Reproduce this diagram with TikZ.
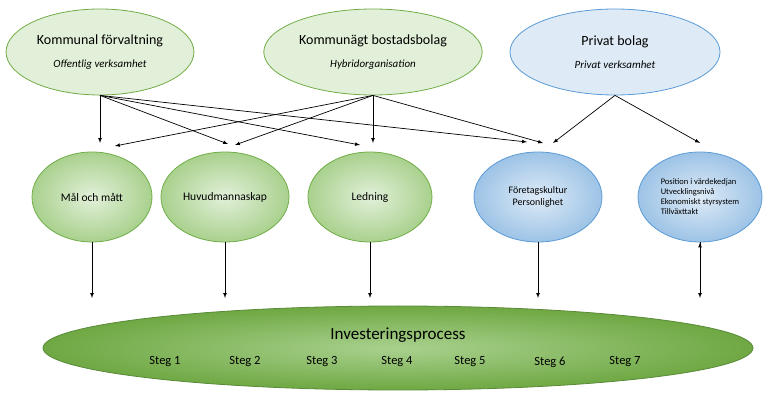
\documentclass[tikz,border=0pt]{standalone}
\usepackage{fontspec}
\setmainfont{Carlito}
\usetikzlibrary{arrows,positioning,shapes}
\definecolor{grline}{HTML}{70AD47}
\definecolor{grlight}{HTML}{E2F0D9}
\definecolor{grmid}{HTML}{A9D18E}
\definecolor{grdark}{HTML}{6FA843}
\definecolor{blline}{HTML}{5B9BD5}
\definecolor{bllight}{HTML}{DEEBF7}
\definecolor{blmid}{HTML}{9DC3E6}

\begin{document}
\begin{tikzpicture}[x=1pt,y=-1pt,
            owner/.style={draw=grline,ellipse,fill=grlight,line width=.8pt,align=center,font=\fontsize{14}{20}\selectfont},
            privat/.style={owner,draw=blline,fill=bllight},
            factor/.style={draw=grline,ellipse,inner color=grlight,outer color=grmid,line width=.8pt,align=center,font=\fontsize{11.5}{13}\selectfont},
            bfactor/.style={factor,draw=blline,inner color=bllight,outer color=blmid},
            steg/.style={font=\fontsize{12.5}{14}\selectfont},
            link/.style={draw,->,>=latex,line width=.7pt}
          ]
          \useasboundingbox (0,0) rectangle (769,403);
          \node[owner,minimum width=184,minimum height=86] (kom) at (100,52) {Kommunal förvaltning\\[3pt]{\fontsize{11}{13}\selectfont\itshape Offentlig verksamhet}};
          \node[owner,minimum width=214,minimum height=86] (bol) at (373,52) {Kommunägt bostadsbolag\\[3pt]{\fontsize{11}{13}\selectfont\itshape Hybridorganisation}};
          \node[privat,minimum width=210,minimum height=86] (pri) at (615,52) {Privat bolag\\[3pt]{\fontsize{11}{13}\selectfont\itshape Privat verksamhet}};

          %factors
          \node[factor,minimum width=120,minimum height=90] (mal) at (92,197) {Mål och mått};
          \node[factor,minimum width=124,minimum height=90] (huv) at (225,197) {Huvudmannaskap};
          \node[factor,minimum width=124,minimum height=90] (led) at (370,197) {Ledning};
          \node[bfactor,minimum width=128,minimum height=90,font=\fontsize{10}{12}\selectfont] (for) at (538,197) {Företagskultur\\Personlighet};
          \node[bfactor,minimum width=124,minimum height=90,inner sep=0pt,align=left,font=\fontsize{8.5}{10}\selectfont] (pos) at (700,197) {Position i värdekedjan\\Utvecklingsnivå\\Ekonomiskt styrsystem\\Tillväxttakt};

          %process
          \node[draw=grline!80!black,ellipse,inner color=grmid,outer color=grdark,line width=.8pt,minimum width=710,minimum height=84] (inv) at (398,348) {};
          \node[font=\fontsize{17}{18}\selectfont,anchor=base] (invt) at (398,340) {Investeringsprocess};
          \foreach \x/\n in {165/1,245/2,322/3,397/4,470/5,550/6,625/7}
            \node[steg] (s\n) at (\x,362) {Steg \n};

          %arrow ends
          \coordinate (k1) at (100,143); \coordinate (k2) at (228,144); \coordinate (k3) at (360,145); \coordinate (k4) at (527,142);
          \coordinate (b1) at (115,146); \coordinate (b2) at (235,145); \coordinate (b3) at (373,143); \coordinate (b4) at (543,143);
          \coordinate (p1) at (553,143); \coordinate (p2) at (700,143);
          \coordinate (m1) at (92,298); \coordinate (m2) at (225,298); \coordinate (m3) at (370,298); \coordinate (m4) at (538,298); \coordinate (m5) at (700,298);

          \path[link]
          (kom.south) edge (k1) (kom.south) edge (k2) (kom.south) edge (k3) (kom.south) edge (k4)
          (bol.south) edge (b1) (bol.south) edge (b2) (bol.south) edge (b3) (bol.south) edge (b4)
          (pri.south) edge (p1) (pri.south) edge (p2)
          (mal.south) edge (m1) (huv.south) edge (m2) (led.south) edge (m3)
          (for.south) edge (m4) (pos.south) edge (m5)
          ;
      \end{tikzpicture}
\end{document}
